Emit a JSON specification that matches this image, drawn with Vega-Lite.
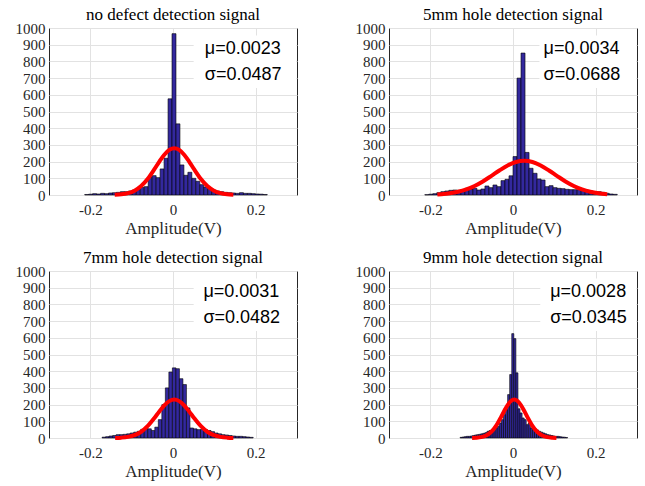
{
  "$schema": "https://vega.github.io/schema/vega-lite/v6.json",
  "padding": {"left": 14, "top": 5, "right": 4, "bottom": 2},
  "bounds": "flush",
  "columns": 2,
  "spacing": {"row": 76, "column": 92},
  "config": {
    "view": {"stroke": "#262626", "strokeWidth": 1},
    "axis": {
      "grid": true, "gridColor": "#e2e2e2", "gridWidth": 1,
      "ticks": false, "domain": false,
      "labelFont": "Liberation Serif, Times New Roman, serif", "labelFontSize": 15, "labelColor": "#262626",
      "titleFont": "Liberation Serif", "titleFontSize": 17, "titleFontWeight": "normal", "titleColor": "#262626",
      "labelOverlap": false, "labelFlush": false
    },
    "style": {
      "guide-label": {"font": "Liberation Serif, Times New Roman, serif", "fontSize": 15, "fill": "#262626"},
      "group-title": {"font": "Liberation Serif", "fontSize": 17, "fontWeight": "normal", "color": "#000000"}
    }
  },
  "datasets": {
    "bars": [
      {"p":1,"x0":-0.2136,"x1":-0.204,"n":3},
      {"p":1,"x0":-0.204,"x1":-0.1944,"n":5},
      {"p":1,"x0":-0.1944,"x1":-0.1848,"n":8},
      {"p":1,"x0":-0.1848,"x1":-0.1752,"n":6},
      {"p":1,"x0":-0.1752,"x1":-0.1656,"n":10},
      {"p":1,"x0":-0.1656,"x1":-0.156,"n":8},
      {"p":1,"x0":-0.156,"x1":-0.1464,"n":12},
      {"p":1,"x0":-0.1464,"x1":-0.1368,"n":14},
      {"p":1,"x0":-0.1368,"x1":-0.1272,"n":16},
      {"p":1,"x0":-0.1272,"x1":-0.1176,"n":20},
      {"p":1,"x0":-0.1176,"x1":-0.108,"n":20},
      {"p":1,"x0":-0.108,"x1":-0.0984,"n":24},
      {"p":1,"x0":-0.0984,"x1":-0.0888,"n":30},
      {"p":1,"x0":-0.0888,"x1":-0.0792,"n":36},
      {"p":1,"x0":-0.0792,"x1":-0.0696,"n":46},
      {"p":1,"x0":-0.0696,"x1":-0.06,"n":50},
      {"p":1,"x0":-0.06,"x1":-0.0504,"n":110},
      {"p":1,"x0":-0.0504,"x1":-0.0408,"n":116},
      {"p":1,"x0":-0.0408,"x1":-0.0312,"n":104},
      {"p":1,"x0":-0.0312,"x1":-0.0216,"n":156},
      {"p":1,"x0":-0.0216,"x1":-0.012,"n":220},
      {"p":1,"x0":-0.012,"x1":-0.0024,"n":576},
      {"p":1,"x0":-0.0024,"x1":0.0072,"n":966},
      {"p":1,"x0":0.0072,"x1":0.0168,"n":426},
      {"p":1,"x0":0.0168,"x1":0.0264,"n":180},
      {"p":1,"x0":0.0264,"x1":0.036,"n":118},
      {"p":1,"x0":0.036,"x1":0.0456,"n":136},
      {"p":1,"x0":0.0456,"x1":0.0552,"n":100},
      {"p":1,"x0":0.0552,"x1":0.0648,"n":82},
      {"p":1,"x0":0.0648,"x1":0.0744,"n":62},
      {"p":1,"x0":0.0744,"x1":0.084,"n":48},
      {"p":1,"x0":0.084,"x1":0.0936,"n":40},
      {"p":1,"x0":0.0936,"x1":0.1032,"n":30},
      {"p":1,"x0":0.1032,"x1":0.1128,"n":24},
      {"p":1,"x0":0.1128,"x1":0.1224,"n":20},
      {"p":1,"x0":0.1224,"x1":0.132,"n":16},
      {"p":1,"x0":0.132,"x1":0.1416,"n":14},
      {"p":1,"x0":0.1416,"x1":0.1512,"n":12},
      {"p":1,"x0":0.1512,"x1":0.1608,"n":10},
      {"p":1,"x0":0.1608,"x1":0.1704,"n":14},
      {"p":1,"x0":0.1704,"x1":0.18,"n":10},
      {"p":1,"x0":0.18,"x1":0.1896,"n":10},
      {"p":1,"x0":0.1896,"x1":0.1992,"n":8},
      {"p":1,"x0":0.1992,"x1":0.2088,"n":6},
      {"p":1,"x0":0.2088,"x1":0.2184,"n":5},
      {"p":1,"x0":0.2184,"x1":0.228,"n":3},

      {"p":2,"x0":-0.2134,"x1":-0.2037,"n":2},
      {"p":2,"x0":-0.2037,"x1":-0.194,"n":5},
      {"p":2,"x0":-0.194,"x1":-0.1843,"n":8},
      {"p":2,"x0":-0.1843,"x1":-0.1746,"n":14},
      {"p":2,"x0":-0.1746,"x1":-0.1649,"n":20},
      {"p":2,"x0":-0.1649,"x1":-0.1552,"n":24},
      {"p":2,"x0":-0.1552,"x1":-0.1455,"n":28},
      {"p":2,"x0":-0.1455,"x1":-0.1358,"n":30},
      {"p":2,"x0":-0.1358,"x1":-0.1261,"n":28},
      {"p":2,"x0":-0.1261,"x1":-0.1164,"n":32},
      {"p":2,"x0":-0.1164,"x1":-0.1067,"n":40},
      {"p":2,"x0":-0.1067,"x1":-0.097,"n":36},
      {"p":2,"x0":-0.097,"x1":-0.0873,"n":40},
      {"p":2,"x0":-0.0873,"x1":-0.0776,"n":30},
      {"p":2,"x0":-0.0776,"x1":-0.0679,"n":36},
      {"p":2,"x0":-0.0679,"x1":-0.0582,"n":54},
      {"p":2,"x0":-0.0582,"x1":-0.0485,"n":44},
      {"p":2,"x0":-0.0485,"x1":-0.0388,"n":60},
      {"p":2,"x0":-0.0388,"x1":-0.0291,"n":50},
      {"p":2,"x0":-0.0291,"x1":-0.0194,"n":86},
      {"p":2,"x0":-0.0194,"x1":-0.0097,"n":94},
      {"p":2,"x0":-0.0097,"x1":0,"n":115},
      {"p":2,"x0":0,"x1":0.0097,"n":230},
      {"p":2,"x0":0.0097,"x1":0.0194,"n":700},
      {"p":2,"x0":0.0194,"x1":0.0291,"n":850},
      {"p":2,"x0":0.0291,"x1":0.0388,"n":255},
      {"p":2,"x0":0.0388,"x1":0.0485,"n":160},
      {"p":2,"x0":0.0485,"x1":0.0582,"n":130},
      {"p":2,"x0":0.0582,"x1":0.0679,"n":96},
      {"p":2,"x0":0.0679,"x1":0.0776,"n":90},
      {"p":2,"x0":0.0776,"x1":0.0873,"n":50},
      {"p":2,"x0":0.0873,"x1":0.097,"n":56},
      {"p":2,"x0":0.097,"x1":0.1067,"n":44},
      {"p":2,"x0":0.1067,"x1":0.1164,"n":40},
      {"p":2,"x0":0.1164,"x1":0.1261,"n":38},
      {"p":2,"x0":0.1261,"x1":0.1358,"n":34},
      {"p":2,"x0":0.1358,"x1":0.1455,"n":32},
      {"p":2,"x0":0.1455,"x1":0.1552,"n":32},
      {"p":2,"x0":0.1552,"x1":0.1649,"n":32},
      {"p":2,"x0":0.1649,"x1":0.1746,"n":30},
      {"p":2,"x0":0.1746,"x1":0.1843,"n":28},
      {"p":2,"x0":0.1843,"x1":0.194,"n":24},
      {"p":2,"x0":0.194,"x1":0.2037,"n":20},
      {"p":2,"x0":0.2037,"x1":0.2134,"n":20},
      {"p":2,"x0":0.2134,"x1":0.2231,"n":16},
      {"p":2,"x0":0.2231,"x1":0.2328,"n":10},
      {"p":2,"x0":0.2328,"x1":0.2425,"n":6},
      {"p":2,"x0":0.2425,"x1":0.2522,"n":4},

      {"p":3,"x0":-0.1715,"x1":-0.163,"n":5},
      {"p":3,"x0":-0.163,"x1":-0.1545,"n":8},
      {"p":3,"x0":-0.1545,"x1":-0.146,"n":12},
      {"p":3,"x0":-0.146,"x1":-0.1375,"n":15},
      {"p":3,"x0":-0.1375,"x1":-0.129,"n":20},
      {"p":3,"x0":-0.129,"x1":-0.1205,"n":20},
      {"p":3,"x0":-0.1205,"x1":-0.112,"n":22},
      {"p":3,"x0":-0.112,"x1":-0.1035,"n":25},
      {"p":3,"x0":-0.1035,"x1":-0.095,"n":30},
      {"p":3,"x0":-0.095,"x1":-0.0865,"n":35},
      {"p":3,"x0":-0.0865,"x1":-0.078,"n":40},
      {"p":3,"x0":-0.078,"x1":-0.0695,"n":52},
      {"p":3,"x0":-0.0695,"x1":-0.061,"n":60},
      {"p":3,"x0":-0.061,"x1":-0.0525,"n":55},
      {"p":3,"x0":-0.0525,"x1":-0.044,"n":45},
      {"p":3,"x0":-0.044,"x1":-0.0355,"n":65},
      {"p":3,"x0":-0.0355,"x1":-0.027,"n":110},
      {"p":3,"x0":-0.027,"x1":-0.0185,"n":200},
      {"p":3,"x0":-0.0185,"x1":-0.01,"n":300},
      {"p":3,"x0":-0.01,"x1":-0.0015,"n":395},
      {"p":3,"x0":-0.0015,"x1":0.007,"n":420},
      {"p":3,"x0":0.007,"x1":0.0155,"n":415},
      {"p":3,"x0":0.0155,"x1":0.024,"n":355},
      {"p":3,"x0":0.024,"x1":0.0325,"n":320},
      {"p":3,"x0":0.0325,"x1":0.041,"n":180},
      {"p":3,"x0":0.041,"x1":0.0495,"n":60},
      {"p":3,"x0":0.0495,"x1":0.058,"n":55},
      {"p":3,"x0":0.058,"x1":0.0665,"n":50},
      {"p":3,"x0":0.0665,"x1":0.075,"n":52},
      {"p":3,"x0":0.075,"x1":0.0835,"n":50},
      {"p":3,"x0":0.0835,"x1":0.092,"n":45},
      {"p":3,"x0":0.092,"x1":0.1005,"n":38},
      {"p":3,"x0":0.1005,"x1":0.109,"n":30},
      {"p":3,"x0":0.109,"x1":0.1175,"n":25},
      {"p":3,"x0":0.1175,"x1":0.126,"n":20},
      {"p":3,"x0":0.126,"x1":0.1345,"n":18},
      {"p":3,"x0":0.1345,"x1":0.143,"n":15},
      {"p":3,"x0":0.143,"x1":0.1515,"n":12},
      {"p":3,"x0":0.1515,"x1":0.16,"n":10},
      {"p":3,"x0":0.16,"x1":0.1685,"n":10},
      {"p":3,"x0":0.1685,"x1":0.177,"n":8},
      {"p":3,"x0":0.177,"x1":0.1855,"n":6},
      {"p":3,"x0":0.1855,"x1":0.194,"n":4},

      {"p":4,"x0":-0.128,"x1":-0.123,"n":4},
      {"p":4,"x0":-0.123,"x1":-0.118,"n":6},
      {"p":4,"x0":-0.118,"x1":-0.113,"n":8},
      {"p":4,"x0":-0.113,"x1":-0.108,"n":10},
      {"p":4,"x0":-0.108,"x1":-0.103,"n":10},
      {"p":4,"x0":-0.103,"x1":-0.098,"n":12},
      {"p":4,"x0":-0.098,"x1":-0.093,"n":15},
      {"p":4,"x0":-0.093,"x1":-0.088,"n":18},
      {"p":4,"x0":-0.088,"x1":-0.083,"n":20},
      {"p":4,"x0":-0.083,"x1":-0.078,"n":22},
      {"p":4,"x0":-0.078,"x1":-0.073,"n":25},
      {"p":4,"x0":-0.073,"x1":-0.068,"n":28},
      {"p":4,"x0":-0.068,"x1":-0.063,"n":32},
      {"p":4,"x0":-0.063,"x1":-0.058,"n":40},
      {"p":4,"x0":-0.058,"x1":-0.053,"n":45},
      {"p":4,"x0":-0.053,"x1":-0.048,"n":45},
      {"p":4,"x0":-0.048,"x1":-0.043,"n":50},
      {"p":4,"x0":-0.043,"x1":-0.038,"n":60},
      {"p":4,"x0":-0.038,"x1":-0.033,"n":70},
      {"p":4,"x0":-0.033,"x1":-0.028,"n":90},
      {"p":4,"x0":-0.028,"x1":-0.023,"n":110},
      {"p":4,"x0":-0.023,"x1":-0.018,"n":140},
      {"p":4,"x0":-0.018,"x1":-0.013,"n":170},
      {"p":4,"x0":-0.013,"x1":-0.008,"n":260},
      {"p":4,"x0":-0.008,"x1":-0.003,"n":380},
      {"p":4,"x0":-0.003,"x1":0.002,"n":625},
      {"p":4,"x0":0.002,"x1":0.007,"n":595},
      {"p":4,"x0":0.007,"x1":0.012,"n":390},
      {"p":4,"x0":0.012,"x1":0.017,"n":175},
      {"p":4,"x0":0.017,"x1":0.022,"n":150},
      {"p":4,"x0":0.022,"x1":0.027,"n":120},
      {"p":4,"x0":0.027,"x1":0.032,"n":110},
      {"p":4,"x0":0.032,"x1":0.037,"n":80},
      {"p":4,"x0":0.037,"x1":0.042,"n":90},
      {"p":4,"x0":0.042,"x1":0.047,"n":60},
      {"p":4,"x0":0.047,"x1":0.052,"n":50},
      {"p":4,"x0":0.052,"x1":0.057,"n":55},
      {"p":4,"x0":0.057,"x1":0.062,"n":48},
      {"p":4,"x0":0.062,"x1":0.067,"n":40},
      {"p":4,"x0":0.067,"x1":0.072,"n":35},
      {"p":4,"x0":0.072,"x1":0.077,"n":30},
      {"p":4,"x0":0.077,"x1":0.082,"n":25},
      {"p":4,"x0":0.082,"x1":0.087,"n":20},
      {"p":4,"x0":0.087,"x1":0.092,"n":18},
      {"p":4,"x0":0.092,"x1":0.097,"n":15},
      {"p":4,"x0":0.097,"x1":0.102,"n":12},
      {"p":4,"x0":0.102,"x1":0.107,"n":10},
      {"p":4,"x0":0.107,"x1":0.112,"n":10},
      {"p":4,"x0":0.112,"x1":0.117,"n":8},
      {"p":4,"x0":0.117,"x1":0.122,"n":6},
      {"p":4,"x0":0.122,"x1":0.127,"n":5},
      {"p":4,"x0":0.127,"x1":0.132,"n":3}
    ],
    "curves": [
      {"p":1,"x0":-0.141,"n":1.3},{"p":1,"x0":-0.125,"n":4.1},{"p":1,"x0":-0.109,"n":11.0},{"p":1,"x0":-0.093,"n":25.9},
      {"p":1,"x0":-0.077,"n":53.6},{"p":1,"x0":-0.061,"n":97.2},{"p":1,"x0":-0.045,"n":154.4},{"p":1,"x0":-0.033,"n":200.3},
      {"p":1,"x0":-0.021,"n":241.3},{"p":1,"x0":-0.009,"n":269.8},{"p":1,"x0":0.003,"n":280},{"p":1,"x0":0.015,"n":269.8},
      {"p":1,"x0":0.027,"n":241.3},{"p":1,"x0":0.039,"n":200.3},{"p":1,"x0":0.051,"n":154.4},{"p":1,"x0":0.067,"n":97.2},
      {"p":1,"x0":0.083,"n":53.6},{"p":1,"x0":0.099,"n":25.9},{"p":1,"x0":0.115,"n":11.0},{"p":1,"x0":0.131,"n":4.1},{"p":1,"x0":0.146,"n":1.3},

      {"p":2,"x0":-0.183,"n":3.5},{"p":2,"x0":-0.173,"n":5.1},{"p":2,"x0":-0.153,"n":10.2},{"p":2,"x0":-0.133,"n":19.2},
      {"p":2,"x0":-0.113,"n":33.4},{"p":2,"x0":-0.093,"n":54.1},{"p":2,"x0":-0.073,"n":81.2},{"p":2,"x0":-0.053,"n":113.4},
      {"p":2,"x0":-0.033,"n":146.9},{"p":2,"x0":-0.013,"n":176.8},{"p":2,"x0":0.007,"n":197.5},{"p":2,"x0":0.027,"n":205},
      {"p":2,"x0":0.047,"n":197.5},{"p":2,"x0":0.067,"n":176.8},{"p":2,"x0":0.087,"n":146.9},{"p":2,"x0":0.107,"n":113.4},
      {"p":2,"x0":0.127,"n":81.2},{"p":2,"x0":0.147,"n":54.1},{"p":2,"x0":0.167,"n":33.4},{"p":2,"x0":0.187,"n":19.2},
      {"p":2,"x0":0.207,"n":10.2},{"p":2,"x0":0.228,"n":4.8},

      {"p":3,"x0":-0.14,"n":0.7},{"p":3,"x0":-0.125,"n":2.2},{"p":3,"x0":-0.109,"n":6.6},{"p":3,"x0":-0.093,"n":16.9},
      {"p":3,"x0":-0.077,"n":37.5},{"p":3,"x0":-0.061,"n":72.0},{"p":3,"x0":-0.045,"n":119.7},{"p":3,"x0":-0.033,"n":159.3},
      {"p":3,"x0":-0.021,"n":195.3},{"p":3,"x0":-0.009,"n":220.8},{"p":3,"x0":0.003,"n":230},{"p":3,"x0":0.015,"n":220.8},
      {"p":3,"x0":0.027,"n":195.3},{"p":3,"x0":0.039,"n":159.3},{"p":3,"x0":0.051,"n":119.7},{"p":3,"x0":0.067,"n":72.0},
      {"p":3,"x0":0.083,"n":37.5},{"p":3,"x0":0.099,"n":16.9},{"p":3,"x0":0.115,"n":6.6},{"p":3,"x0":0.131,"n":2.2},{"p":3,"x0":0.146,"n":0.7},

      {"p":4,"x0":-0.099,"n":0.5},{"p":4,"x0":-0.089,"n":1.5},{"p":4,"x0":-0.077,"n":5.1},{"p":4,"x0":-0.065,"n":14.7},
      {"p":4,"x0":-0.053,"n":35.7},{"p":4,"x0":-0.041,"n":72.8},{"p":4,"x0":-0.029,"n":125.1},{"p":4,"x0":-0.021,"n":163.3},
      {"p":4,"x0":-0.013,"n":197.5},{"p":4,"x0":-0.005,"n":221.4},{"p":4,"x0":0.003,"n":230},{"p":4,"x0":0.011,"n":221.4},
      {"p":4,"x0":0.019,"n":197.5},{"p":4,"x0":0.027,"n":163.3},{"p":4,"x0":0.035,"n":125.1},{"p":4,"x0":0.047,"n":72.8},
      {"p":4,"x0":0.059,"n":35.7},{"p":4,"x0":0.071,"n":14.7},{"p":4,"x0":0.083,"n":5.1},{"p":4,"x0":0.095,"n":1.5},{"p":4,"x0":0.105,"n":0.5}
    ],
    "stats": [
      {"p":1,"mu":"μ=0.0023","sd":"σ=0.0487"},
      {"p":2,"mu":"μ=0.0034","sd":"σ=0.0688"},
      {"p":3,"mu":"μ=0.0031","sd":"σ=0.0482"},
      {"p":4,"mu":"μ=0.0028","sd":"σ=0.0345"}
    ]
  },
  "concat": [
    {
      "width": 248, "height": 167,
      "title": {"text": "no defect detection signal", "font": "Liberation Serif", "fontSize": 17, "fontWeight": "normal", "color": "#000000", "offset": -3},
      "layer": [
        {"data": {"name": "bars"}, "transform": [{"filter": "datum.p == 1"}],
         "mark": {"type": "bar", "fill": "#33289e", "stroke": "#000000", "strokeWidth": 0.6},
         "encoding": {
           "x": {"field": "x0", "type": "quantitative", "title": "Amplitude(V)", "scale": {"domain": [-0.3, 0.3], "nice": false, "zero": false},
                 "axis": {"values": [-0.2, 0, 0.2], "labelExpr": "datum.value < 0 ? '-' + format(-datum.value, '.1f') : (datum.value == 0 ? '0' : format(datum.value, '.1f'))", "labelFont": "Liberation Serif, Times New Roman, serif", "labelFontSize": 15, "labelColor": "#262626", "labelPadding": 7, "titlePadding": 3, "titleFont": "Liberation Serif", "titleFontSize": 17, "titleFontWeight": "normal", "titleColor": "#262626", "labelOverlap": false, "labelFlush": false, "grid": true, "gridColor": "#e2e2e2", "ticks": false, "domain": false}},
           "x2": {"field": "x1"},
           "y": {"field": "n", "type": "quantitative", "title": null, "scale": {"domain": [0, 1000], "nice": false},
                 "axis": {"values": [0,100,200,300,400,500,600,700,800,900,1000], "format": "d", "labelFont": "Liberation Serif, Times New Roman, serif", "labelFontSize": 15, "labelColor": "#262626", "labelPadding": 4, "labelOverlap": false, "labelFlush": false, "grid": true, "gridColor": "#e2e2e2", "ticks": false, "domain": false}},
           "y2": {"datum": 0}}},
        {"data": {"name": "stats"}, "transform": [{"filter": "datum.p == 1"}], "mark": {"type": "rect", "fill": "white"},
         "encoding": {
           "x": {"datum": 0.05, "type": "quantitative", "title": "Amplitude(V)", "scale": {"domain": [-0.3, 0.3], "nice": false, "zero": false},
                 "axis": {"values": [-0.2, 0, 0.2], "labelExpr": "datum.value < 0 ? '-' + format(-datum.value, '.1f') : (datum.value == 0 ? '0' : format(datum.value, '.1f'))", "labelFont": "Liberation Serif, Times New Roman, serif", "labelFontSize": 15, "labelColor": "#262626", "labelPadding": 7, "titlePadding": 3, "titleFont": "Liberation Serif", "titleFontSize": 17, "titleFontWeight": "normal", "titleColor": "#262626", "labelOverlap": false, "labelFlush": false, "grid": true, "gridColor": "#e2e2e2", "ticks": false, "domain": false}},
           "x2": {"datum": 0.298},
           "y": {"datum": 640, "type": "quantitative", "title": null, "scale": {"domain": [0, 1000], "nice": false},
                 "axis": {"values": [0,100,200,300,400,500,600,700,800,900,1000], "format": "d", "labelFont": "Liberation Serif, Times New Roman, serif", "labelFontSize": 15, "labelColor": "#262626", "labelPadding": 4, "labelOverlap": false, "labelFlush": false, "grid": true, "gridColor": "#e2e2e2", "ticks": false, "domain": false}},
           "y2": {"datum": 955}}},
        {"data": {"name": "curves"}, "transform": [{"filter": "datum.p == 1"}],
         "mark": {"type": "line", "color": "#ff0000", "strokeWidth": 4, "interpolate": "monotone"},
         "encoding": {
           "x": {"field": "x0", "type": "quantitative", "title": "Amplitude(V)", "scale": {"domain": [-0.3, 0.3], "nice": false, "zero": false},
                 "axis": {"values": [-0.2, 0, 0.2], "labelExpr": "datum.value < 0 ? '-' + format(-datum.value, '.1f') : (datum.value == 0 ? '0' : format(datum.value, '.1f'))", "labelFont": "Liberation Serif, Times New Roman, serif", "labelFontSize": 15, "labelColor": "#262626", "labelPadding": 7, "titlePadding": 3, "titleFont": "Liberation Serif", "titleFontSize": 17, "titleFontWeight": "normal", "titleColor": "#262626", "labelOverlap": false, "labelFlush": false, "grid": true, "gridColor": "#e2e2e2", "ticks": false, "domain": false}},
           "y": {"field": "n", "type": "quantitative", "title": null, "scale": {"domain": [0, 1000], "nice": false},
                 "axis": {"values": [0,100,200,300,400,500,600,700,800,900,1000], "format": "d", "labelFont": "Liberation Serif, Times New Roman, serif", "labelFontSize": 15, "labelColor": "#262626", "labelPadding": 4, "labelOverlap": false, "labelFlush": false, "grid": true, "gridColor": "#e2e2e2", "ticks": false, "domain": false}}}},
        {"data": {"name": "stats"}, "transform": [{"filter": "datum.p == 1"}],
         "mark": {"type": "text", "align": "left", "baseline": "middle", "font": "Liberation Sans", "fontSize": 18, "color": "#000000", "dy": -13},
         "encoding": {
           "x": {"datum": 0.077, "type": "quantitative", "title": "Amplitude(V)", "scale": {"domain": [-0.3, 0.3], "nice": false, "zero": false},
                 "axis": {"values": [-0.2, 0, 0.2], "labelExpr": "datum.value < 0 ? '-' + format(-datum.value, '.1f') : (datum.value == 0 ? '0' : format(datum.value, '.1f'))", "labelFont": "Liberation Serif, Times New Roman, serif", "labelFontSize": 15, "labelColor": "#262626", "labelPadding": 7, "titlePadding": 3, "titleFont": "Liberation Serif", "titleFontSize": 17, "titleFontWeight": "normal", "titleColor": "#262626", "labelOverlap": false, "labelFlush": false, "grid": true, "gridColor": "#e2e2e2", "ticks": false, "domain": false}},
           "y": {"datum": 795, "type": "quantitative", "title": null, "scale": {"domain": [0, 1000], "nice": false},
                 "axis": {"values": [0,100,200,300,400,500,600,700,800,900,1000], "format": "d", "labelFont": "Liberation Serif, Times New Roman, serif", "labelFontSize": 15, "labelColor": "#262626", "labelPadding": 4, "labelOverlap": false, "labelFlush": false, "grid": true, "gridColor": "#e2e2e2", "ticks": false, "domain": false}},
           "text": {"field": "mu"}}},
        {"data": {"name": "stats"}, "transform": [{"filter": "datum.p == 1"}],
         "mark": {"type": "text", "align": "left", "baseline": "middle", "font": "Liberation Sans", "fontSize": 18, "color": "#000000", "dy": 13},
         "encoding": {
           "x": {"datum": 0.077, "type": "quantitative", "title": "Amplitude(V)", "scale": {"domain": [-0.3, 0.3], "nice": false, "zero": false},
                 "axis": {"values": [-0.2, 0, 0.2], "labelExpr": "datum.value < 0 ? '-' + format(-datum.value, '.1f') : (datum.value == 0 ? '0' : format(datum.value, '.1f'))", "labelFont": "Liberation Serif, Times New Roman, serif", "labelFontSize": 15, "labelColor": "#262626", "labelPadding": 7, "titlePadding": 3, "titleFont": "Liberation Serif", "titleFontSize": 17, "titleFontWeight": "normal", "titleColor": "#262626", "labelOverlap": false, "labelFlush": false, "grid": true, "gridColor": "#e2e2e2", "ticks": false, "domain": false}},
           "y": {"datum": 795, "type": "quantitative", "title": null, "scale": {"domain": [0, 1000], "nice": false},
                 "axis": {"values": [0,100,200,300,400,500,600,700,800,900,1000], "format": "d", "labelFont": "Liberation Serif, Times New Roman, serif", "labelFontSize": 15, "labelColor": "#262626", "labelPadding": 4, "labelOverlap": false, "labelFlush": false, "grid": true, "gridColor": "#e2e2e2", "ticks": false, "domain": false}},
           "text": {"field": "sd"}}}
      ]
    },
    {
      "width": 248, "height": 167,
      "title": {"text": "5mm hole detection signal", "font": "Liberation Serif", "fontSize": 17, "fontWeight": "normal", "color": "#000000", "offset": -3},
      "layer": [
        {"data": {"name": "bars"}, "transform": [{"filter": "datum.p == 2"}],
         "mark": {"type": "bar", "fill": "#33289e", "stroke": "#000000", "strokeWidth": 0.6},
         "encoding": {
           "x": {"field": "x0", "type": "quantitative", "title": "Amplitude(V)", "scale": {"domain": [-0.3, 0.3], "nice": false, "zero": false},
                 "axis": {"values": [-0.2, 0, 0.2], "labelExpr": "datum.value < 0 ? '-' + format(-datum.value, '.1f') : (datum.value == 0 ? '0' : format(datum.value, '.1f'))", "labelFont": "Liberation Serif, Times New Roman, serif", "labelFontSize": 15, "labelColor": "#262626", "labelPadding": 7, "titlePadding": 3, "titleFont": "Liberation Serif", "titleFontSize": 17, "titleFontWeight": "normal", "titleColor": "#262626", "labelOverlap": false, "labelFlush": false, "grid": true, "gridColor": "#e2e2e2", "ticks": false, "domain": false}},
           "x2": {"field": "x1"},
           "y": {"field": "n", "type": "quantitative", "title": null, "scale": {"domain": [0, 1000], "nice": false},
                 "axis": {"values": [0,100,200,300,400,500,600,700,800,900,1000], "format": "d", "labelFont": "Liberation Serif, Times New Roman, serif", "labelFontSize": 15, "labelColor": "#262626", "labelPadding": 4, "labelOverlap": false, "labelFlush": false, "grid": true, "gridColor": "#e2e2e2", "ticks": false, "domain": false}},
           "y2": {"datum": 0}}},
        {"data": {"name": "stats"}, "transform": [{"filter": "datum.p == 2"}], "mark": {"type": "rect", "fill": "white"},
         "encoding": {
           "x": {"datum": 0.064, "type": "quantitative", "title": "Amplitude(V)", "scale": {"domain": [-0.3, 0.3], "nice": false, "zero": false},
                 "axis": {"values": [-0.2, 0, 0.2], "labelExpr": "datum.value < 0 ? '-' + format(-datum.value, '.1f') : (datum.value == 0 ? '0' : format(datum.value, '.1f'))", "labelFont": "Liberation Serif, Times New Roman, serif", "labelFontSize": 15, "labelColor": "#262626", "labelPadding": 7, "titlePadding": 3, "titleFont": "Liberation Serif", "titleFontSize": 17, "titleFontWeight": "normal", "titleColor": "#262626", "labelOverlap": false, "labelFlush": false, "grid": true, "gridColor": "#e2e2e2", "ticks": false, "domain": false}},
           "x2": {"datum": 0.298},
           "y": {"datum": 640, "type": "quantitative", "title": null, "scale": {"domain": [0, 1000], "nice": false},
                 "axis": {"values": [0,100,200,300,400,500,600,700,800,900,1000], "format": "d", "labelFont": "Liberation Serif, Times New Roman, serif", "labelFontSize": 15, "labelColor": "#262626", "labelPadding": 4, "labelOverlap": false, "labelFlush": false, "grid": true, "gridColor": "#e2e2e2", "ticks": false, "domain": false}},
           "y2": {"datum": 955}}},
        {"data": {"name": "curves"}, "transform": [{"filter": "datum.p == 2"}],
         "mark": {"type": "line", "color": "#ff0000", "strokeWidth": 4, "interpolate": "monotone"},
         "encoding": {
           "x": {"field": "x0", "type": "quantitative", "title": "Amplitude(V)", "scale": {"domain": [-0.3, 0.3], "nice": false, "zero": false},
                 "axis": {"values": [-0.2, 0, 0.2], "labelExpr": "datum.value < 0 ? '-' + format(-datum.value, '.1f') : (datum.value == 0 ? '0' : format(datum.value, '.1f'))", "labelFont": "Liberation Serif, Times New Roman, serif", "labelFontSize": 15, "labelColor": "#262626", "labelPadding": 7, "titlePadding": 3, "titleFont": "Liberation Serif", "titleFontSize": 17, "titleFontWeight": "normal", "titleColor": "#262626", "labelOverlap": false, "labelFlush": false, "grid": true, "gridColor": "#e2e2e2", "ticks": false, "domain": false}},
           "y": {"field": "n", "type": "quantitative", "title": null, "scale": {"domain": [0, 1000], "nice": false},
                 "axis": {"values": [0,100,200,300,400,500,600,700,800,900,1000], "format": "d", "labelFont": "Liberation Serif, Times New Roman, serif", "labelFontSize": 15, "labelColor": "#262626", "labelPadding": 4, "labelOverlap": false, "labelFlush": false, "grid": true, "gridColor": "#e2e2e2", "ticks": false, "domain": false}}}},
        {"data": {"name": "stats"}, "transform": [{"filter": "datum.p == 2"}],
         "mark": {"type": "text", "align": "left", "baseline": "middle", "font": "Liberation Sans", "fontSize": 18, "color": "#000000", "dy": -13},
         "encoding": {
           "x": {"datum": 0.074, "type": "quantitative", "title": "Amplitude(V)", "scale": {"domain": [-0.3, 0.3], "nice": false, "zero": false},
                 "axis": {"values": [-0.2, 0, 0.2], "labelExpr": "datum.value < 0 ? '-' + format(-datum.value, '.1f') : (datum.value == 0 ? '0' : format(datum.value, '.1f'))", "labelFont": "Liberation Serif, Times New Roman, serif", "labelFontSize": 15, "labelColor": "#262626", "labelPadding": 7, "titlePadding": 3, "titleFont": "Liberation Serif", "titleFontSize": 17, "titleFontWeight": "normal", "titleColor": "#262626", "labelOverlap": false, "labelFlush": false, "grid": true, "gridColor": "#e2e2e2", "ticks": false, "domain": false}},
           "y": {"datum": 795, "type": "quantitative", "title": null, "scale": {"domain": [0, 1000], "nice": false},
                 "axis": {"values": [0,100,200,300,400,500,600,700,800,900,1000], "format": "d", "labelFont": "Liberation Serif, Times New Roman, serif", "labelFontSize": 15, "labelColor": "#262626", "labelPadding": 4, "labelOverlap": false, "labelFlush": false, "grid": true, "gridColor": "#e2e2e2", "ticks": false, "domain": false}},
           "text": {"field": "mu"}}},
        {"data": {"name": "stats"}, "transform": [{"filter": "datum.p == 2"}],
         "mark": {"type": "text", "align": "left", "baseline": "middle", "font": "Liberation Sans", "fontSize": 18, "color": "#000000", "dy": 13},
         "encoding": {
           "x": {"datum": 0.074, "type": "quantitative", "title": "Amplitude(V)", "scale": {"domain": [-0.3, 0.3], "nice": false, "zero": false},
                 "axis": {"values": [-0.2, 0, 0.2], "labelExpr": "datum.value < 0 ? '-' + format(-datum.value, '.1f') : (datum.value == 0 ? '0' : format(datum.value, '.1f'))", "labelFont": "Liberation Serif, Times New Roman, serif", "labelFontSize": 15, "labelColor": "#262626", "labelPadding": 7, "titlePadding": 3, "titleFont": "Liberation Serif", "titleFontSize": 17, "titleFontWeight": "normal", "titleColor": "#262626", "labelOverlap": false, "labelFlush": false, "grid": true, "gridColor": "#e2e2e2", "ticks": false, "domain": false}},
           "y": {"datum": 795, "type": "quantitative", "title": null, "scale": {"domain": [0, 1000], "nice": false},
                 "axis": {"values": [0,100,200,300,400,500,600,700,800,900,1000], "format": "d", "labelFont": "Liberation Serif, Times New Roman, serif", "labelFontSize": 15, "labelColor": "#262626", "labelPadding": 4, "labelOverlap": false, "labelFlush": false, "grid": true, "gridColor": "#e2e2e2", "ticks": false, "domain": false}},
           "text": {"field": "sd"}}}
      ]
    },
    {
      "width": 248, "height": 167,
      "title": {"text": "7mm hole detection signal", "font": "Liberation Serif", "fontSize": 17, "fontWeight": "normal", "color": "#000000", "offset": -3},
      "layer": [
        {"data": {"name": "bars"}, "transform": [{"filter": "datum.p == 3"}],
         "mark": {"type": "bar", "fill": "#33289e", "stroke": "#000000", "strokeWidth": 0.6},
         "encoding": {
           "x": {"field": "x0", "type": "quantitative", "title": "Amplitude(V)", "scale": {"domain": [-0.3, 0.3], "nice": false, "zero": false},
                 "axis": {"values": [-0.2, 0, 0.2], "labelExpr": "datum.value < 0 ? '-' + format(-datum.value, '.1f') : (datum.value == 0 ? '0' : format(datum.value, '.1f'))", "labelFont": "Liberation Serif, Times New Roman, serif", "labelFontSize": 15, "labelColor": "#262626", "labelPadding": 7, "titlePadding": 3, "titleFont": "Liberation Serif", "titleFontSize": 17, "titleFontWeight": "normal", "titleColor": "#262626", "labelOverlap": false, "labelFlush": false, "grid": true, "gridColor": "#e2e2e2", "ticks": false, "domain": false}},
           "x2": {"field": "x1"},
           "y": {"field": "n", "type": "quantitative", "title": null, "scale": {"domain": [0, 1000], "nice": false},
                 "axis": {"values": [0,100,200,300,400,500,600,700,800,900,1000], "format": "d", "labelFont": "Liberation Serif, Times New Roman, serif", "labelFontSize": 15, "labelColor": "#262626", "labelPadding": 4, "labelOverlap": false, "labelFlush": false, "grid": true, "gridColor": "#e2e2e2", "ticks": false, "domain": false}},
           "y2": {"datum": 0}}},
        {"data": {"name": "stats"}, "transform": [{"filter": "datum.p == 3"}], "mark": {"type": "rect", "fill": "white"},
         "encoding": {
           "x": {"datum": 0.05, "type": "quantitative", "title": "Amplitude(V)", "scale": {"domain": [-0.3, 0.3], "nice": false, "zero": false},
                 "axis": {"values": [-0.2, 0, 0.2], "labelExpr": "datum.value < 0 ? '-' + format(-datum.value, '.1f') : (datum.value == 0 ? '0' : format(datum.value, '.1f'))", "labelFont": "Liberation Serif, Times New Roman, serif", "labelFontSize": 15, "labelColor": "#262626", "labelPadding": 7, "titlePadding": 3, "titleFont": "Liberation Serif", "titleFontSize": 17, "titleFontWeight": "normal", "titleColor": "#262626", "labelOverlap": false, "labelFlush": false, "grid": true, "gridColor": "#e2e2e2", "ticks": false, "domain": false}},
           "x2": {"datum": 0.298},
           "y": {"datum": 640, "type": "quantitative", "title": null, "scale": {"domain": [0, 1000], "nice": false},
                 "axis": {"values": [0,100,200,300,400,500,600,700,800,900,1000], "format": "d", "labelFont": "Liberation Serif, Times New Roman, serif", "labelFontSize": 15, "labelColor": "#262626", "labelPadding": 4, "labelOverlap": false, "labelFlush": false, "grid": true, "gridColor": "#e2e2e2", "ticks": false, "domain": false}},
           "y2": {"datum": 955}}},
        {"data": {"name": "curves"}, "transform": [{"filter": "datum.p == 3"}],
         "mark": {"type": "line", "color": "#ff0000", "strokeWidth": 4, "interpolate": "monotone"},
         "encoding": {
           "x": {"field": "x0", "type": "quantitative", "title": "Amplitude(V)", "scale": {"domain": [-0.3, 0.3], "nice": false, "zero": false},
                 "axis": {"values": [-0.2, 0, 0.2], "labelExpr": "datum.value < 0 ? '-' + format(-datum.value, '.1f') : (datum.value == 0 ? '0' : format(datum.value, '.1f'))", "labelFont": "Liberation Serif, Times New Roman, serif", "labelFontSize": 15, "labelColor": "#262626", "labelPadding": 7, "titlePadding": 3, "titleFont": "Liberation Serif", "titleFontSize": 17, "titleFontWeight": "normal", "titleColor": "#262626", "labelOverlap": false, "labelFlush": false, "grid": true, "gridColor": "#e2e2e2", "ticks": false, "domain": false}},
           "y": {"field": "n", "type": "quantitative", "title": null, "scale": {"domain": [0, 1000], "nice": false},
                 "axis": {"values": [0,100,200,300,400,500,600,700,800,900,1000], "format": "d", "labelFont": "Liberation Serif, Times New Roman, serif", "labelFontSize": 15, "labelColor": "#262626", "labelPadding": 4, "labelOverlap": false, "labelFlush": false, "grid": true, "gridColor": "#e2e2e2", "ticks": false, "domain": false}}}},
        {"data": {"name": "stats"}, "transform": [{"filter": "datum.p == 3"}],
         "mark": {"type": "text", "align": "left", "baseline": "middle", "font": "Liberation Sans", "fontSize": 18, "color": "#000000", "dy": -13},
         "encoding": {
           "x": {"datum": 0.0735, "type": "quantitative", "title": "Amplitude(V)", "scale": {"domain": [-0.3, 0.3], "nice": false, "zero": false},
                 "axis": {"values": [-0.2, 0, 0.2], "labelExpr": "datum.value < 0 ? '-' + format(-datum.value, '.1f') : (datum.value == 0 ? '0' : format(datum.value, '.1f'))", "labelFont": "Liberation Serif, Times New Roman, serif", "labelFontSize": 15, "labelColor": "#262626", "labelPadding": 7, "titlePadding": 3, "titleFont": "Liberation Serif", "titleFontSize": 17, "titleFontWeight": "normal", "titleColor": "#262626", "labelOverlap": false, "labelFlush": false, "grid": true, "gridColor": "#e2e2e2", "ticks": false, "domain": false}},
           "y": {"datum": 797, "type": "quantitative", "title": null, "scale": {"domain": [0, 1000], "nice": false},
                 "axis": {"values": [0,100,200,300,400,500,600,700,800,900,1000], "format": "d", "labelFont": "Liberation Serif, Times New Roman, serif", "labelFontSize": 15, "labelColor": "#262626", "labelPadding": 4, "labelOverlap": false, "labelFlush": false, "grid": true, "gridColor": "#e2e2e2", "ticks": false, "domain": false}},
           "text": {"field": "mu"}}},
        {"data": {"name": "stats"}, "transform": [{"filter": "datum.p == 3"}],
         "mark": {"type": "text", "align": "left", "baseline": "middle", "font": "Liberation Sans", "fontSize": 18, "color": "#000000", "dy": 13},
         "encoding": {
           "x": {"datum": 0.0735, "type": "quantitative", "title": "Amplitude(V)", "scale": {"domain": [-0.3, 0.3], "nice": false, "zero": false},
                 "axis": {"values": [-0.2, 0, 0.2], "labelExpr": "datum.value < 0 ? '-' + format(-datum.value, '.1f') : (datum.value == 0 ? '0' : format(datum.value, '.1f'))", "labelFont": "Liberation Serif, Times New Roman, serif", "labelFontSize": 15, "labelColor": "#262626", "labelPadding": 7, "titlePadding": 3, "titleFont": "Liberation Serif", "titleFontSize": 17, "titleFontWeight": "normal", "titleColor": "#262626", "labelOverlap": false, "labelFlush": false, "grid": true, "gridColor": "#e2e2e2", "ticks": false, "domain": false}},
           "y": {"datum": 797, "type": "quantitative", "title": null, "scale": {"domain": [0, 1000], "nice": false},
                 "axis": {"values": [0,100,200,300,400,500,600,700,800,900,1000], "format": "d", "labelFont": "Liberation Serif, Times New Roman, serif", "labelFontSize": 15, "labelColor": "#262626", "labelPadding": 4, "labelOverlap": false, "labelFlush": false, "grid": true, "gridColor": "#e2e2e2", "ticks": false, "domain": false}},
           "text": {"field": "sd"}}}
      ]
    },
    {
      "width": 248, "height": 167,
      "title": {"text": "9mm hole detection signal", "font": "Liberation Serif", "fontSize": 17, "fontWeight": "normal", "color": "#000000", "offset": -3},
      "layer": [
        {"data": {"name": "bars"}, "transform": [{"filter": "datum.p == 4"}],
         "mark": {"type": "bar", "fill": "#33289e", "stroke": "#000000", "strokeWidth": 0.6},
         "encoding": {
           "x": {"field": "x0", "type": "quantitative", "title": "Amplitude(V)", "scale": {"domain": [-0.3, 0.3], "nice": false, "zero": false},
                 "axis": {"values": [-0.2, 0, 0.2], "labelExpr": "datum.value < 0 ? '-' + format(-datum.value, '.1f') : (datum.value == 0 ? '0' : format(datum.value, '.1f'))", "labelFont": "Liberation Serif, Times New Roman, serif", "labelFontSize": 15, "labelColor": "#262626", "labelPadding": 7, "titlePadding": 3, "titleFont": "Liberation Serif", "titleFontSize": 17, "titleFontWeight": "normal", "titleColor": "#262626", "labelOverlap": false, "labelFlush": false, "grid": true, "gridColor": "#e2e2e2", "ticks": false, "domain": false}},
           "x2": {"field": "x1"},
           "y": {"field": "n", "type": "quantitative", "title": null, "scale": {"domain": [0, 1000], "nice": false},
                 "axis": {"values": [0,100,200,300,400,500,600,700,800,900,1000], "format": "d", "labelFont": "Liberation Serif, Times New Roman, serif", "labelFontSize": 15, "labelColor": "#262626", "labelPadding": 4, "labelOverlap": false, "labelFlush": false, "grid": true, "gridColor": "#e2e2e2", "ticks": false, "domain": false}},
           "y2": {"datum": 0}}},
        {"data": {"name": "stats"}, "transform": [{"filter": "datum.p == 4"}], "mark": {"type": "rect", "fill": "white"},
         "encoding": {
           "x": {"datum": 0.066, "type": "quantitative", "title": "Amplitude(V)", "scale": {"domain": [-0.3, 0.3], "nice": false, "zero": false},
                 "axis": {"values": [-0.2, 0, 0.2], "labelExpr": "datum.value < 0 ? '-' + format(-datum.value, '.1f') : (datum.value == 0 ? '0' : format(datum.value, '.1f'))", "labelFont": "Liberation Serif, Times New Roman, serif", "labelFontSize": 15, "labelColor": "#262626", "labelPadding": 7, "titlePadding": 3, "titleFont": "Liberation Serif", "titleFontSize": 17, "titleFontWeight": "normal", "titleColor": "#262626", "labelOverlap": false, "labelFlush": false, "grid": true, "gridColor": "#e2e2e2", "ticks": false, "domain": false}},
           "x2": {"datum": 0.298},
           "y": {"datum": 640, "type": "quantitative", "title": null, "scale": {"domain": [0, 1000], "nice": false},
                 "axis": {"values": [0,100,200,300,400,500,600,700,800,900,1000], "format": "d", "labelFont": "Liberation Serif, Times New Roman, serif", "labelFontSize": 15, "labelColor": "#262626", "labelPadding": 4, "labelOverlap": false, "labelFlush": false, "grid": true, "gridColor": "#e2e2e2", "ticks": false, "domain": false}},
           "y2": {"datum": 955}}},
        {"data": {"name": "curves"}, "transform": [{"filter": "datum.p == 4"}],
         "mark": {"type": "line", "color": "#ff0000", "strokeWidth": 4, "interpolate": "monotone"},
         "encoding": {
           "x": {"field": "x0", "type": "quantitative", "title": "Amplitude(V)", "scale": {"domain": [-0.3, 0.3], "nice": false, "zero": false},
                 "axis": {"values": [-0.2, 0, 0.2], "labelExpr": "datum.value < 0 ? '-' + format(-datum.value, '.1f') : (datum.value == 0 ? '0' : format(datum.value, '.1f'))", "labelFont": "Liberation Serif, Times New Roman, serif", "labelFontSize": 15, "labelColor": "#262626", "labelPadding": 7, "titlePadding": 3, "titleFont": "Liberation Serif", "titleFontSize": 17, "titleFontWeight": "normal", "titleColor": "#262626", "labelOverlap": false, "labelFlush": false, "grid": true, "gridColor": "#e2e2e2", "ticks": false, "domain": false}},
           "y": {"field": "n", "type": "quantitative", "title": null, "scale": {"domain": [0, 1000], "nice": false},
                 "axis": {"values": [0,100,200,300,400,500,600,700,800,900,1000], "format": "d", "labelFont": "Liberation Serif, Times New Roman, serif", "labelFontSize": 15, "labelColor": "#262626", "labelPadding": 4, "labelOverlap": false, "labelFlush": false, "grid": true, "gridColor": "#e2e2e2", "ticks": false, "domain": false}}}},
        {"data": {"name": "stats"}, "transform": [{"filter": "datum.p == 4"}],
         "mark": {"type": "text", "align": "left", "baseline": "middle", "font": "Liberation Sans", "fontSize": 18, "color": "#000000", "dy": -13},
         "encoding": {
           "x": {"datum": 0.09, "type": "quantitative", "title": "Amplitude(V)", "scale": {"domain": [-0.3, 0.3], "nice": false, "zero": false},
                 "axis": {"values": [-0.2, 0, 0.2], "labelExpr": "datum.value < 0 ? '-' + format(-datum.value, '.1f') : (datum.value == 0 ? '0' : format(datum.value, '.1f'))", "labelFont": "Liberation Serif, Times New Roman, serif", "labelFontSize": 15, "labelColor": "#262626", "labelPadding": 7, "titlePadding": 3, "titleFont": "Liberation Serif", "titleFontSize": 17, "titleFontWeight": "normal", "titleColor": "#262626", "labelOverlap": false, "labelFlush": false, "grid": true, "gridColor": "#e2e2e2", "ticks": false, "domain": false}},
           "y": {"datum": 797, "type": "quantitative", "title": null, "scale": {"domain": [0, 1000], "nice": false},
                 "axis": {"values": [0,100,200,300,400,500,600,700,800,900,1000], "format": "d", "labelFont": "Liberation Serif, Times New Roman, serif", "labelFontSize": 15, "labelColor": "#262626", "labelPadding": 4, "labelOverlap": false, "labelFlush": false, "grid": true, "gridColor": "#e2e2e2", "ticks": false, "domain": false}},
           "text": {"field": "mu"}}},
        {"data": {"name": "stats"}, "transform": [{"filter": "datum.p == 4"}],
         "mark": {"type": "text", "align": "left", "baseline": "middle", "font": "Liberation Sans", "fontSize": 18, "color": "#000000", "dy": 13},
         "encoding": {
           "x": {"datum": 0.09, "type": "quantitative", "title": "Amplitude(V)", "scale": {"domain": [-0.3, 0.3], "nice": false, "zero": false},
                 "axis": {"values": [-0.2, 0, 0.2], "labelExpr": "datum.value < 0 ? '-' + format(-datum.value, '.1f') : (datum.value == 0 ? '0' : format(datum.value, '.1f'))", "labelFont": "Liberation Serif, Times New Roman, serif", "labelFontSize": 15, "labelColor": "#262626", "labelPadding": 7, "titlePadding": 3, "titleFont": "Liberation Serif", "titleFontSize": 17, "titleFontWeight": "normal", "titleColor": "#262626", "labelOverlap": false, "labelFlush": false, "grid": true, "gridColor": "#e2e2e2", "ticks": false, "domain": false}},
           "y": {"datum": 797, "type": "quantitative", "title": null, "scale": {"domain": [0, 1000], "nice": false},
                 "axis": {"values": [0,100,200,300,400,500,600,700,800,900,1000], "format": "d", "labelFont": "Liberation Serif, Times New Roman, serif", "labelFontSize": 15, "labelColor": "#262626", "labelPadding": 4, "labelOverlap": false, "labelFlush": false, "grid": true, "gridColor": "#e2e2e2", "ticks": false, "domain": false}},
           "text": {"field": "sd"}}}
      ]
    }
  ]
}
